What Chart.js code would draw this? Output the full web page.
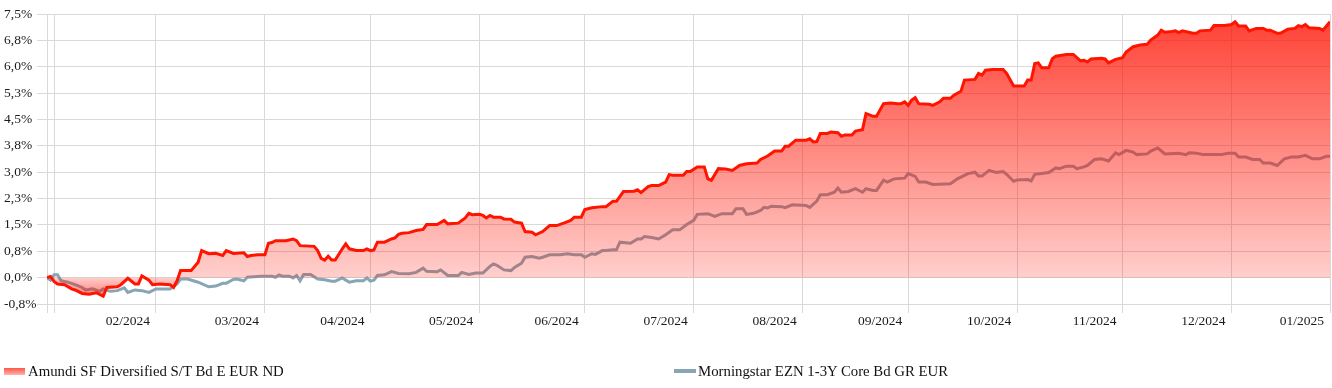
<!DOCTYPE html>
<html>
<head>
<meta charset="utf-8">
<script src="https://cdn.jsdelivr.net/npm/chart.js@4/dist/chart.umd.min.js"></script>
<style>
  html, body { margin: 0; padding: 0; background: #fff; }
  #wrap { position: relative; width: 1332px; height: 388px; overflow: hidden; }
  #c { position: absolute; left: 0; top: 0; }
  .lg { position: absolute; top: 362px; height: 18px; line-height: 18px; font-family: "Liberation Serif", serif; font-size: 14.8px; color: #111; white-space: nowrap; }
  .sw { position: absolute; }
</style>
</head>
<body>
<div id="wrap">
  <canvas id="c" width="1332" height="388"></canvas>
  <div class="sw" style="left:4px; top:368px; width:21px; height:7px; background: linear-gradient(to bottom, #ff5548, #ffb3ad);"></div>
  <div class="lg" style="left:28px;">Amundi SF Diversified S/T Bd E EUR ND</div>
  <div class="sw" style="left:674px; top:369px; width:22px; height:4px; background:#87a5b4;"></div>
  <div class="lg" style="left:698px;">Morningstar EZN 1-3Y Core Bd GR EUR</div>
</div>
<script>
// Days are counted from 2024-01-01 (day 0). Values in %.
const seriesNames = ['Amundi SF Diversified S/T Bd E EUR ND', 'Morningstar EZN 1-3Y Core Bd GR EUR'];

const amundiDays = [29,30,31,32,34,36,37,39,41,43,45,46,49,50,52,54,55,56,58,59,61,64,65,66,67,70,72,73,75,77,79,80,82,85,86,87,89,91,92,93,94,97,99,100,101,105,106,107,108,109,110,111,113,114,115,117,119,120,121,122,123,125,127,128,129,130,132,134,136,137,140,142,143,146,148,149,150,152,153,154,155,156,158,159,161,162,164,165,167,168,170,172,174,176,178,179,181,182,184,187,188,190,191,193,196,197,198,200,201,203,205,206,207,210,211,212,214,216,217,218,220,222,224,226,228,231,232,234,236,238,239,240,242,245,246,247,248,249,251,252,254,255,256,258,259,261,262,264,265,267,269,271,272,273,274,275,276,277,280,281,283,284,286,287,289,290,293,294,295,296,298,301,302,304,307,308,309,310,311,312,314,315,316,319,321,323,324,325,326,329,330,331,333,335,336,338,340,342,343,345,346,347,349,350,351,352,355,356,357,360,361,364,366,367,368,370,371,373,375,376,377,379,380,382,384,385,386,387,388,391,392,394];
const amundiValues = [0.00,0.03,-0.11,-0.18,-0.20,-0.32,-0.35,-0.45,-0.47,-0.43,-0.53,-0.28,-0.26,-0.20,-0.02,-0.18,-0.18,0.05,-0.07,-0.20,-0.18,-0.20,-0.28,-0.09,0.20,0.20,0.44,0.77,0.68,0.69,0.63,0.77,0.69,0.71,0.60,0.63,0.65,0.65,0.98,1.00,1.05,1.05,1.10,1.05,0.91,0.89,0.77,0.55,0.50,0.61,0.50,0.50,0.82,0.96,0.82,0.77,0.77,0.82,0.77,0.79,1.01,1.01,1.10,1.13,1.23,1.26,1.28,1.34,1.37,1.51,1.51,1.63,1.53,1.55,1.70,1.83,1.79,1.80,1.77,1.70,1.77,1.72,1.72,1.67,1.66,1.58,1.55,1.31,1.29,1.22,1.31,1.48,1.48,1.55,1.63,1.72,1.72,1.94,1.99,2.02,2.02,2.17,2.17,2.45,2.46,2.50,2.42,2.59,2.62,2.62,2.72,2.93,2.91,2.91,3.02,3.02,3.15,3.15,2.81,2.77,3.10,3.09,3.05,3.19,3.24,3.26,3.36,3.46,3.60,3.60,3.74,3.74,3.91,3.91,3.95,3.86,3.87,4.10,4.10,4.14,4.12,4.02,4.06,4.06,4.17,4.21,4.67,4.59,4.59,4.95,4.97,4.95,4.95,5.00,4.90,5.05,5.12,4.95,4.93,4.90,5.00,5.10,5.10,5.19,5.30,5.62,5.64,5.81,5.76,5.90,5.92,5.92,5.81,5.45,5.45,5.62,5.62,6.09,6.11,5.97,5.97,6.23,6.30,6.35,6.35,6.17,6.18,6.14,6.22,6.24,6.22,6.11,6.21,6.26,6.42,6.57,6.62,6.64,6.76,6.90,7.04,6.98,7.00,7.02,6.97,7.02,6.95,6.95,7.02,7.04,7.17,7.17,7.20,7.28,7.16,7.16,7.02,7.09,7.09,7.04,7.04,6.95,6.96,7.07,7.09,7.17,7.14,7.20,7.11,7.09,7.04,7.28];

const benchDays = [29,30,31,32,33,35,37,39,40,42,44,45,47,49,51,52,54,56,58,60,64,66,67,69,72,75,77,79,80,82,83,85,86,90,93,94,95,96,98,99,100,101,102,104,106,108,110,111,113,114,115,117,119,120,121,122,123,125,127,129,132,134,136,137,140,141,143,146,147,149,151,153,155,156,157,159,161,162,164,165,167,169,170,172,175,177,179,181,182,184,185,187,188,190,191,192,195,197,198,199,201,203,205,207,209,211,213,214,217,219,221,224,225,227,228,230,232,233,234,235,238,239,241,245,246,248,249,251,253,254,255,257,259,261,262,264,265,267,268,270,273,274,276,277,279,281,286,288,291,293,294,295,297,299,301,302,304,305,308,309,310,312,314,316,317,319,321,322,324,325,327,329,331,333,334,336,338,339,342,343,345,347,351,353,354,356,358,363,365,367,368,370,372,374,375,377,379,381,383,385,387,389,391,393,394];
const benchValues = [0.00,-0.07,0.08,0.08,-0.09,-0.13,-0.20,-0.28,-0.35,-0.32,-0.39,-0.32,-0.39,-0.37,-0.29,-0.42,-0.35,-0.37,-0.42,-0.32,-0.32,-0.18,-0.04,-0.04,-0.13,-0.26,-0.24,-0.16,-0.16,-0.05,-0.04,-0.09,0.01,0.04,0.04,0.01,0.08,0.04,0.04,-0.01,0.06,-0.09,0.09,0.09,-0.04,-0.06,-0.10,-0.10,-0.01,-0.07,-0.13,-0.09,-0.09,-0.01,-0.10,-0.07,0.06,0.08,0.17,0.12,0.11,0.15,0.27,0.18,0.17,0.22,0.06,0.06,0.15,0.09,0.13,0.13,0.32,0.39,0.35,0.22,0.20,0.29,0.41,0.58,0.60,0.55,0.58,0.65,0.65,0.68,0.65,0.65,0.58,0.68,0.66,0.77,0.77,0.79,0.79,1.01,0.98,1.10,1.10,1.17,1.14,1.10,1.22,1.36,1.36,1.51,1.63,1.80,1.82,1.74,1.82,1.82,1.96,1.96,1.80,1.83,1.91,2.00,1.98,2.03,2.02,1.99,2.07,2.05,2.00,2.18,2.36,2.36,2.43,2.55,2.43,2.45,2.53,2.43,2.53,2.48,2.48,2.77,2.72,2.81,2.83,2.96,2.88,2.72,2.72,2.65,2.67,2.81,2.96,3.00,2.89,2.89,3.05,2.99,3.02,2.94,2.74,2.78,2.79,2.75,2.94,2.96,2.99,3.12,3.10,3.17,3.17,3.10,3.15,3.19,3.36,3.38,3.32,3.55,3.50,3.62,3.57,3.50,3.52,3.60,3.69,3.52,3.54,3.50,3.55,3.54,3.50,3.50,3.54,3.54,3.43,3.43,3.36,3.36,3.26,3.26,3.19,3.38,3.43,3.43,3.48,3.38,3.38,3.45,3.45];

// x-axis: first day of each month (days since 2024-01-01) and month labels
const monthStartDays = [31,60,91,121,152,182,213,244,274,305,335,366];
const xTickLabels = ['02/2024','03/2024','04/2024','05/2024','06/2024','07/2024','08/2024','09/2024','10/2024','11/2024','12/2024','01/2025'];
const yMin = -0.75, yMax = 7.5, yStep = 0.75;

const firstDay = amundiDays[0];
const lastDay = amundiDays[amundiDays.length - 1];

const toPoints = (days, vals) => days.map((d, i) => ({ x: d, y: vals[i] }));

const GRID = '#d9d9d9';
const FONT = { family: '"Liberation Serif", serif', size: 13.5 };

function fillGradient(ctx) {
  const chart = ctx.chart;
  const area = chart.chartArea;
  if (!area) return 'rgba(255,15,0,0.4)';
  const zero = chart.scales.y.getPixelForValue(0);
  const z = Math.min(1, Math.max(0, (zero - area.top) / (area.bottom - area.top)));
  const g = chart.ctx.createLinearGradient(0, area.top, 0, area.bottom);
  g.addColorStop(0, 'rgba(255,15,0,0.80)');
  g.addColorStop(z, 'rgba(255,15,0,0.20)');
  g.addColorStop(1, 'rgba(240,15,0,0.70)');
  return g;
}

new Chart(document.getElementById('c'), {
  type: 'line',
  data: {
    datasets: [
      {
        label: seriesNames[0],
        data: toPoints(amundiDays, amundiValues),
        borderColor: '#ff1400',
        borderWidth: 3,
        backgroundColor: fillGradient,
        fill: 'origin',
        pointRadius: 0,
        tension: 0
      },
      {
        label: seriesNames[1],
        data: toPoints(benchDays, benchValues),
        borderColor: '#87a5b4',
        borderWidth: 3,
        fill: false,
        pointRadius: 0,
        tension: 0
      }
    ]
  },
  options: {
    responsive: false,
    animation: false,
    layout: { padding: { top: 14, right: 2, left: 4, bottom: 0 } },
    plugins: { legend: { display: false }, tooltip: { enabled: false } },
    scales: {
      x: {
        type: 'linear',
        min: firstDay,
        max: lastDay,
        afterBuildTicks: (s) => {
          s.ticks = [firstDay, ...monthStartDays, lastDay].map(v => ({ value: v }));
        },
        afterFit: (s) => { s.height = 84; },
        grid: { color: GRID, lineWidth: 1, drawTicks: true, tickLength: 9, tickColor: GRID },
        border: { display: false },
        ticks: {
          autoSkip: false,
          maxRotation: 0,
          minRotation: 0,
          align: 'end',
          labelOffset: -6,
          padding: 0,
          color: '#1a1a1a',
          font: FONT,
          callback: (v, i) => (i < 2 ? '' : xTickLabels[i - 2])
        }
      },
      y: {
        min: yMin,
        max: yMax,
        afterFit: (s) => { s.width = 43; },
        afterBuildTicks: (s) => {
          const t = [];
          for (let k = 0; yMin + k * yStep <= yMax + 1e-9; k++) t.push({ value: Math.round((yMin + k * yStep) * 100) / 100 });
          s.ticks = t;
        },
        grid: { color: GRID, lineWidth: 1, drawTicks: true, tickLength: 10, tickColor: GRID },
        border: { display: false },
        ticks: {
          padding: 4,
          crossAlign: 'far',
          color: '#1a1a1a',
          font: FONT,
          callback: (v) => v.toFixed(1).replace('.', ',') + '%'
        }
      }
    }
  }
});
</script>
</body>
</html>
